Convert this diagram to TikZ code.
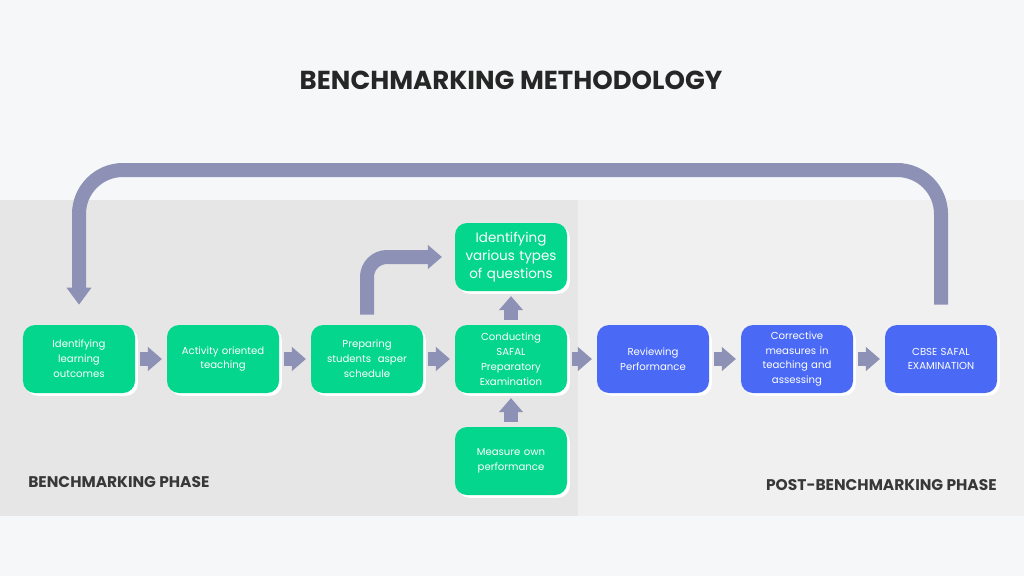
\documentclass[tikz,border=0pt]{standalone}
\usepackage{fontspec}
\setmainfont{Poppins}
\usetikzlibrary{arrows.meta,shadows}
\definecolor{vert}{HTML}{05D68E}
\definecolor{bleu}{HTML}{4A6AF5}
\definecolor{fleche}{HTML}{8D91B6}
\definecolor{fond}{HTML}{F6F7F9}
\definecolor{gauche}{HTML}{E6E6E6}
\definecolor{droite}{HTML}{F0F0F0}

\begin{document}
\begin{tikzpicture}[x=0.25mm,y=-0.25mm,punkt/.style={rectangle, rounded corners=3mm, fill=vert,
    minimum width=28mm, minimum height=17mm, text width=25mm, align=center, text=white,
    font=\fontsize{7.2}{10.6}\selectfont, general shadow={fill=white, shadow xshift=0.7mm,
    shadow yshift=-0.7mm}},bleupunkt/.style={punkt, fill=bleu},
    fleche/.style={draw=fleche, line width=3.5mm, -{Triangle[width=5.8mm,length=3.5mm]},
    shorten <=1.2mm, shorten >=1.2mm},
    grandefleche/.style={draw=fleche, line width=3.5mm, -{Triangle[width=6mm,length=4.3mm]}},
    phase/.style={text=black!78, inner sep=0pt, font=\fontsize{11}{13}\selectfont\bfseries}]

	\fill[fond] (0,0) rectangle (1024,576);
	\fill[gauche] (0,200) rectangle (578,516);
	\fill[droite] (578,200) rectangle (1024,516);

	\node [text=black!85, font=\fontsize{18.5}{21}\selectfont\bfseries] (titre) at (511,80) {BENCHMARKING METHODOLOGY};

	\node [punkt] (a) at (79,359) {Identifying\\learning\\outcomes};
	\node [punkt] (b) at (223,359) {Activity oriented\\teaching};
	\node [punkt] (c) at (367,359) {Preparing\\students\ \ asper\\schedule};
	\node [punkt] (d) at (511,359) {Conducting\\SAFAL\\Preparatory\\Examination};
	\node [bleupunkt] (e) at (653,359) {Reviewing\\Performance};
	\node [bleupunkt] (f) at (797,359) {Corrective\\measures in\\teaching and\\assessing};
	\node [bleupunkt] (g) at (941,359) {CBSE SAFAL\\EXAMINATION};
	\node [punkt, font=\fontsize{9.6}{13}\selectfont] (h) at (511,257) {Identifying\\various types\\of questions};
	\node [punkt] (i) at (511,461) {Measure own\\performance};

	\draw [fleche] (a) -- (b);
	\draw [fleche] (b) -- (c);
	\draw [fleche] (c) -- (d);
	\draw [fleche] (d) -- (e);
	\draw [fleche] (e) -- (f);
	\draw [fleche] (f) -- (g);
	\draw [fleche] (d) -- (h);
	\draw [fleche] (i) -- (d);

	\draw [fleche, rounded corners=5mm, shorten <=2.5mm, shorten >=3.2mm] (c.north) |- (h.west);

	\coordinate (haut) at (0,170);
	\draw [grandefleche, rounded corners=11mm, shorten <=5mm, shorten >=5mm]
	  (g.north) -- (g.north |- haut) -- (a.north |- haut) -- (a.north);

	\node [phase, anchor=west] (p1) at (28,482) {BENCHMARKING PHASE};
	\node [phase, anchor=east] (p2) at (997,485) {POST-BENCHMARKING PHASE};

\end{tikzpicture}
\end{document}
